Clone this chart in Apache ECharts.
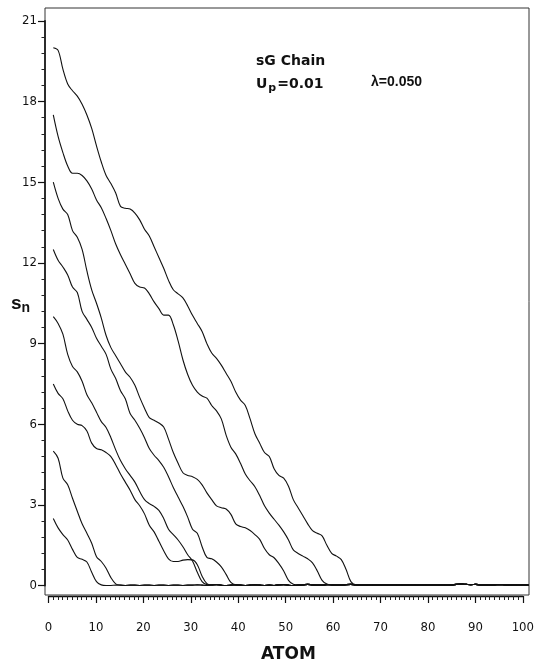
<!DOCTYPE html>
<html>
<head>
<meta charset="utf-8">
<script src="https://cdn.jsdelivr.net/npm/echarts@6/dist/echarts.min.js"></script>
<style>
  html, body { margin: 0; padding: 0; background: #fff; }
  #chart { width: 537px; height: 666px; }
</style>
</head>
<body>
<div id="chart"></div>
<script>
// atom index (x) runs 1..100
const ATOMS = Array.from({ length: 100 }, (_, i) => i + 1)

// s_n, one array per starting value, from atom 1 until it reaches 0
const s20 = [20.0, 19.9, 19.2, 18.65, 18.4, 18.2, 17.9, 17.5, 17.0, 16.35,
  15.75, 15.25, 14.95, 14.6, 14.1, 14.03, 14.0, 13.85, 13.6, 13.25,
  13.0, 12.6, 12.2, 11.8, 11.35, 11.0, 10.85, 10.7, 10.4, 10.05,
  9.75, 9.45, 9.0, 8.65, 8.45, 8.2, 7.9, 7.6, 7.2, 6.9,
  6.7, 6.2, 5.65, 5.3, 4.95, 4.8, 4.35, 4.1, 4.0, 3.7,
  3.2, 2.9, 2.6, 2.3, 2.05, 1.95, 1.85, 1.5, 1.2, 1.1,
  0.97, 0.6, 0.15, 0.03]
const s175 = [17.5, 16.7, 16.1, 15.6, 15.33, 15.33, 15.25, 15.05, 14.75, 14.34,
  14.05, 13.65, 13.2, 12.7, 12.3, 11.95, 11.6, 11.24, 11.1, 11.07,
  10.85, 10.55, 10.3, 10.06, 10.06, 9.7, 9.1, 8.4, 7.85, 7.45,
  7.2, 7.05, 6.97, 6.7, 6.5, 6.2, 5.6, 5.15, 4.9, 4.55,
  4.15, 3.9, 3.68, 3.35, 2.97, 2.7, 2.47, 2.25, 2.0, 1.7,
  1.33, 1.2, 1.1, 1.0, 0.85, 0.55, 0.2, 0.06, 0.02]
const s15 = [15.0, 14.4, 14.0, 13.8, 13.2, 12.95, 12.5, 11.7, 11.0, 10.5,
  9.95, 9.3, 8.85, 8.55, 8.25, 7.95, 7.75, 7.45, 7.0, 6.6,
  6.25, 6.15, 6.05, 5.9, 5.45, 4.95, 4.55, 4.2, 4.1, 4.05,
  3.95, 3.75, 3.45, 3.2, 2.97, 2.9, 2.85, 2.65, 2.3, 2.2,
  2.15, 2.05, 1.9, 1.72, 1.38, 1.15, 1.04, 0.82, 0.55, 0.2,
  0.05]
const s125 = [12.5, 12.1, 11.85, 11.55, 11.1, 10.9, 10.2, 9.9, 9.6, 9.2,
  8.9, 8.6, 8.05, 7.7, 7.25, 6.95, 6.4, 6.15, 5.85, 5.5,
  5.1, 4.85, 4.65, 4.4, 4.05, 3.65, 3.3, 2.95, 2.55, 2.1,
  1.95, 1.45, 1.05, 1.0, 0.88, 0.7, 0.42, 0.12, 0.03]
const s10 = [10.0, 9.75, 9.35, 8.6, 8.15, 7.95, 7.6, 7.1, 6.8, 6.45,
  6.1, 5.88, 5.5, 5.05, 4.65, 4.35, 4.1, 3.85, 3.5, 3.2,
  3.05, 2.95, 2.8, 2.5, 2.1, 1.9, 1.7, 1.45, 1.15, 0.92,
  0.5, 0.15, 0.04]
const s75 = [7.5, 7.15, 6.95, 6.5, 6.15, 6.0, 5.95, 5.75, 5.3, 5.1,
  5.05, 4.95, 4.8, 4.5, 4.15, 3.85, 3.55, 3.2, 2.97, 2.67,
  2.25, 2.0, 1.65, 1.3, 1.0, 0.9, 0.9, 0.95, 0.97, 0.96,
  0.78, 0.35, 0.08, 0.02]
const s5 = [5.0, 4.74, 4.0, 3.75, 3.25, 2.77, 2.3, 1.95, 1.58, 1.08,
  0.9, 0.65, 0.3, 0.07, 0.02]
const s25 = [2.5, 2.15, 1.9, 1.7, 1.35, 1.05, 0.98, 0.88, 0.5, 0.15,
  0.03, 0.01]

// flat tail near zero, atoms 1..100
const baseline = [0.02, 0.02, 0.02, 0.02, 0.02, 0.02, 0.02, 0.02, 0.02, 0.02,
  0.02, 0.01, 0.01, 0.02, 0.02, 0.01, 0.02, 0.02, 0.01, 0.02,
  0.02, 0.01, 0.02, 0.02, 0.01, 0.02, 0.02, 0.01, 0.02, 0.02,
  0.03, 0.02, 0.01, 0.03, 0.04, 0.02, 0.01, 0.02, 0.03, 0.02,
  0.01, 0.02, 0.03, 0.02, 0.01, 0.02, 0.01, 0.03, 0.04, 0.02,
  0.01, 0.02, 0.03, 0.05, 0.03, 0.02, 0.02, 0.04, 0.03, 0.02,
  0.02, 0.04, 0.05, 0.03, 0.02, 0.02, 0.03, 0.02, 0.02, 0.03,
  0.02, 0.02, 0.03, 0.02, 0.02, 0.03, 0.02, 0.02, 0.03, 0.02,
  0.02, 0.03, 0.02, 0.03, 0.05, 0.06, 0.05, 0.04, 0.05, 0.03,
  0.03, 0.02, 0.03, 0.04, 0.03, 0.02, 0.03, 0.02, 0.03, 0.02]

const curves = [s20, s175, s15, s125, s10, s75, s5, s25]

const toPoints = head => ATOMS.map((a, i) => [a, i < head.length ? head[i] : baseline[i]])

const TICK_FONT = '"DejaVu Sans Condensed", "Liberation Sans Narrow", sans-serif'
const BOLD_FONT = '"DejaVu Sans", sans-serif'
const LIB_FONT = '"Liberation Sans", Arial, sans-serif'

const hidden = { show: false }

const chart = echarts.init(document.getElementById('chart'), null, { renderer: 'canvas' })

chart.setOption({
  animation: false,
  backgroundColor: '#fff',
  // 0: data area, 1: x ruler under the frame, 2: y ruler on the frame's left edge
  grid: [
    { left: 48.5, right: 8.5, top: 20.8, bottom: 80.3 },
    { left: 48.5, right: 8.5, top: 20.8, bottom: 70 },
    { left: 45, right: 8.5, top: 20.8, bottom: 80.3 }
  ],
  xAxis: [
    { gridIndex: 0, type: 'value', min: 0, max: 100, ...hidden },
    {
      gridIndex: 1,
      type: 'value',
      min: 0,
      max: 100,
      interval: 10,
      axisLine: { lineStyle: { color: '#111', width: 1.3 } },
      axisTick: { length: 7, lineStyle: { color: '#111', width: 1.2 } },
      minorTick: { show: true, splitNumber: 10, length: 4, lineStyle: { color: '#222', width: 1 } },
      splitLine: { show: false },
      axisLabel: { margin: 25, color: '#111', fontSize: 13, fontFamily: TICK_FONT }
    },
    { gridIndex: 2, type: 'value', min: 0, max: 100, ...hidden }
  ],
  yAxis: [
    { gridIndex: 0, type: 'value', min: 0, max: 21, ...hidden },
    { gridIndex: 1, type: 'value', min: 0, max: 21, ...hidden },
    {
      gridIndex: 2,
      type: 'value',
      min: 0,
      max: 21,
      interval: 3,
      axisLine: { show: true, lineStyle: { color: '#111', width: 1.6 } },
      axisTick: { length: 7, lineStyle: { color: '#111', width: 1.2 } },
      minorTick: { show: true, splitNumber: 5, length: 3.5, lineStyle: { color: '#222', width: 1 } },
      splitLine: { show: false },
      axisLabel: { margin: 8, color: '#111', fontSize: 13, fontFamily: TICK_FONT }
    }
  ],
  graphic: [
    {
      type: 'rect',
      shape: { x: 45, y: 8, width: 484, height: 587 },
      style: { fill: 'none', stroke: '#333', lineWidth: 1 },
      silent: true
    },
    {
      type: 'text', left: 256, top: 54,
      style: { text: 'sG Chain', font: 'bold 14px ' + BOLD_FONT, fill: '#111' }
    },
    {
      type: 'text', left: 256, top: 75,
      style: {
        text: '{n|U}{s|p}{n|=0.01}',
        rich: {
          n: { font: 'bold 14px ' + BOLD_FONT, fill: '#111', lineHeight: 16 },
          s: { font: 'bold 11px ' + BOLD_FONT, fill: '#111', lineHeight: 12, padding: [8, 1, 0, 1] }
        }
      }
    },
    {
      type: 'text', left: 371, top: 75,
      style: { text: 'λ=0.050', font: 'bold 14px ' + LIB_FONT, fill: '#111' }
    },
    {
      type: 'text', left: 11, top: 292,
      style: {
        text: '{s|s}{n|n}',
        rich: {
          s: { font: 'bold 19px ' + LIB_FONT, fill: '#111', lineHeight: 18 },
          n: { font: 'bold 14px ' + LIB_FONT, fill: '#111', lineHeight: 14, padding: [9, 0, 0, 0] }
        }
      }
    },
    {
      type: 'text', left: 261, top: 646,
      style: { text: 'ATOM', font: 'bold 17px ' + BOLD_FONT, fill: '#111' }
    }
  ],
  series: curves.map(c => ({
    type: 'line',
    xAxisIndex: 0,
    yAxisIndex: 0,
    data: toPoints(c),
    smooth: 0.35,
    symbol: 'none',
    clip: false,
    lineStyle: { color: '#111', width: 1.1 }
  }))
})
</script>
</body>
</html>
